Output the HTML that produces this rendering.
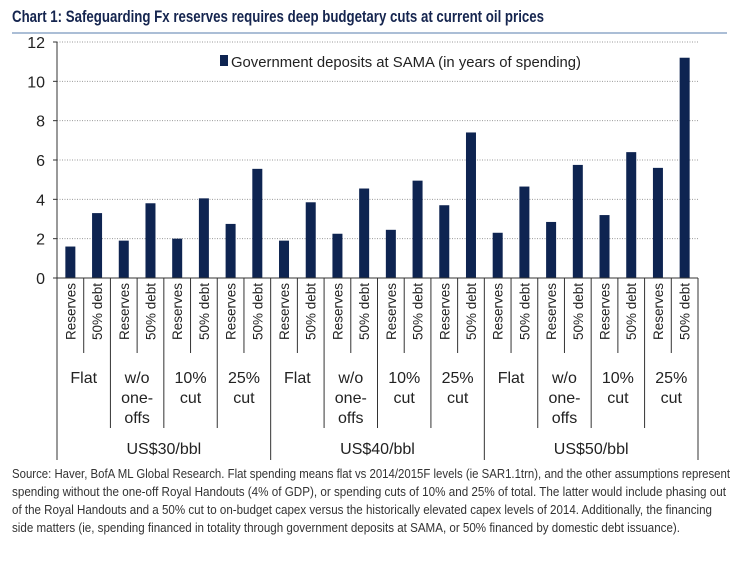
<!DOCTYPE html>
<html><head><meta charset="utf-8"><style>
body{margin:0;background:#fff;width:747px;height:556px;overflow:hidden;font-family:"Liberation Sans",sans-serif}
</style></head><body>
<svg width="747" height="556" id="c">
<text x="12" y="22" font-size="16.5" font-weight="bold" fill="#15254f" textLength="532" lengthAdjust="spacingAndGlyphs">Chart 1: Safeguarding Fx reserves requires deep budgetary cuts at current oil prices</text>
<line x1="12" y1="33" x2="727" y2="33" stroke="#8fa8c8" stroke-width="1.5"/>
<g id="grid"></g><g id="bars"></g><g id="axis"></g>
<rect x="220" y="55" width="8" height="11" fill="#0e2451"/>
<text x="231" y="67" font-size="15" fill="#222" textLength="350" lengthAdjust="spacingAndGlyphs">Government deposits at SAMA (in years of spending)</text>
<g font-size="12.5" fill="#333">
<text x="12" y="478" textLength="718" lengthAdjust="spacingAndGlyphs">Source: Haver, BofA ML Global Research. Flat spending means flat vs 2014/2015F levels (ie SAR1.1trn), and the other assumptions represent</text>
<text x="12" y="496" textLength="714" lengthAdjust="spacingAndGlyphs">spending without the one-off Royal Handouts (4% of GDP), or spending cuts of 10% and 25% of total. The latter would include phasing out</text>
<text x="12" y="514" textLength="700" lengthAdjust="spacingAndGlyphs">of the Royal Handouts and a 50% cut to on-budget capex versus the historically elevated capex levels of 2014. Additionally, the financing</text>
<text x="12" y="532" textLength="668" lengthAdjust="spacingAndGlyphs">side matters (ie, spending financed in totality through government deposits at SAMA, or 50% financed by domestic debt issuance).</text>
</g>
</svg>
<script>
const prices=["US$30/bbl","US$40/bbl","US$50/bbl"];
const scenarios=[["Flat"],["w/o","one-","offs"],["10%","cut"],["25%","cut"]];
const financing=["Reserves","50% debt"];
const values=[1.6,3.3,1.9,3.8,2.0,4.05,2.75,5.55,1.9,3.85,2.25,4.55,2.45,4.95,3.7,7.4,2.3,4.65,2.85,5.75,3.2,6.4,5.6,11.2];
const yTicks=[0,2,4,6,8,10,12];
const NS="http://www.w3.org/2000/svg";
const X0=57,X1=698,Y0=278,Y1=42,YMAX=12;
const slot=(X1-X0)/values.length;
const y=v=>Y0-(v/YMAX)*(Y0-Y1);
const x=i=>X0+i*slot;
function mk(t,a,p){const e=document.createElementNS(NS,t);for(const k in a)e.setAttribute(k,a[k]);p.appendChild(e);return e;}
const grid=document.getElementById('grid'),bars=document.getElementById('bars'),ax=document.getElementById('axis');
yTicks.forEach(t=>{
 if(t>0){const g=mk('line',{x1:X0,x2:X1,y1:y(t),y2:y(t),stroke:'#999','stroke-dasharray':'1,1.5'},grid);
 
 }
 mk('line',{x1:X0-4,x2:X0,y1:y(t),y2:y(t),stroke:'#333'},ax);
 const l=mk('text',{x:X0-12,y:y(t)+6,'font-size':16,'text-anchor':'end',fill:'#222'},ax);l.textContent=t;
 
 
});
mk('line',{x1:X0,x2:X0,y1:Y1,y2:Y0,stroke:'#333'},ax);
mk('line',{x1:X0,x2:X1,y1:Y0,y2:Y0,stroke:'#333'},ax);
values.forEach((v,i)=>{
 const r=mk('rect',{x:x(i)+slot/2-5,y:y(v),width:10,height:Y0-y(v),fill:'#0e2451'},bars);
 
 
 const cx=x(i)+slot/2+5;
 const t=mk('text',{transform:`translate(${cx},${Y0+5}) rotate(-90)`,'font-size':13.5,'text-anchor':'end',fill:'#222'},ax);
 t.textContent=financing[i%2];
 
 
});
for(let i=0;i<=values.length;i++){
 let end=Y0+75;
 if(i%2==0)end=Y0+150;
 if(i%8==0)end=Y0+182;
 mk('line',{x1:x(i),x2:x(i),y1:Y0,y2:end,stroke:'#333'},ax);
}
for(let s=0;s<12;s++){
 const cx=x(s*2+1);
 scenarios[s%4].forEach((w,k)=>{
  const t=mk('text',{x:cx,y:Y0+105+k*20,'font-size':16,'text-anchor':'middle',fill:'#222'},ax);t.textContent=w;
  
  
 });
}
prices.forEach((p,k)=>{
 const t=mk('text',{x:x(k*8+4),y:Y0+176,'font-size':16,'text-anchor':'middle',fill:'#222'},ax);t.textContent=p;
 
 
});
</script>
</body></html>
